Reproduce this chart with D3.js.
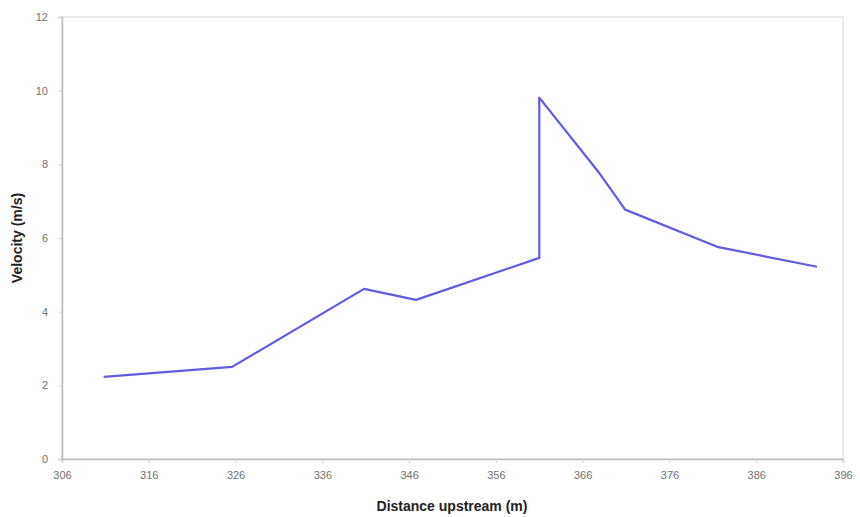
<!DOCTYPE html>
<html><head><meta charset="utf-8">
<script src="https://cdn.jsdelivr.net/npm/d3@7/dist/d3.min.js"></script>
<style>body{margin:0;background:#fff;}svg{display:block;}</style>
</head><body>
<svg id="chart" width="860" height="517"></svg>
<script>
const distance = [310.8, 325.6, 340.8, 346.8, 361.0, 361.0, 367.8, 370.9, 381.5, 393.0];
const velocity = [2.23, 2.50, 4.62, 4.32, 5.46, 9.81, 7.80, 6.77, 5.76, 5.22];
const xTicks = [306, 316, 326, 336, 346, 356, 366, 376, 386, 396];
const yTicks = [0, 2, 4, 6, 8, 10, 12];

const svg = d3.select("#chart");
const m = {left: 62, right: 843, top: 17, bottom: 459};
const x = d3.scaleLinear().domain([306, 396]).range([m.left, m.right]);
const y = d3.scaleLinear().domain([0, 12]).range([m.bottom, m.top]);

// plot border
svg.append("rect").attr("x", m.left).attr("y", m.top)
  .attr("width", m.right - m.left).attr("height", m.bottom - m.top)
  .attr("fill", "none").attr("stroke", "#d4d4d4").attr("stroke-width", 1);

const xAxis = svg.append("g").attr("transform", `translate(0,${m.bottom})`)
  .call(d3.axisBottom(x).tickValues(xTicks).tickSize(4).tickPadding(8).tickFormat(d3.format("d")));
const yAxis = svg.append("g").attr("transform", `translate(${m.left},0)`)
  .call(d3.axisLeft(y).tickValues(yTicks).tickSize(4).tickPadding(10).tickFormat(d3.format("d")));
[xAxis, yAxis].forEach(a => {
  a.select(".domain").attr("stroke", "#bdbdbd").attr("stroke-width", 1.5);
  a.selectAll(".tick line").attr("stroke", "#d0d0d0");
  a.selectAll(".tick text").attr("fill", "#707070").attr("font-family", "Arial, 'Liberation Sans', sans-serif").attr("font-size", 11);
});

const pts = distance.map((d, i) => [d, velocity[i]]);
svg.append("path").datum(pts)
  .attr("d", d3.line().x(d => x(d[0])).y(d => y(d[1])))
  .attr("fill", "none").attr("stroke", "#5d5de0").attr("stroke-width", 2.2)
  .attr("stroke-linejoin", "round");

svg.append("text").attr("x", 452).attr("y", 511).attr("text-anchor", "middle")
  .attr("font-family", "Arial, 'Liberation Sans', sans-serif").attr("font-size", 14).attr("font-weight", "bold")
  .attr("fill", "#222").text("Distance upstream (m)");
svg.append("text").attr("transform", "translate(22,238) rotate(-90)").attr("text-anchor", "middle")
  .attr("font-family", "Arial, 'Liberation Sans', sans-serif").attr("font-size", 14).attr("font-weight", "bold")
  .attr("fill", "#222").text("Velocity (m/s)");
</script>
</body></html>
